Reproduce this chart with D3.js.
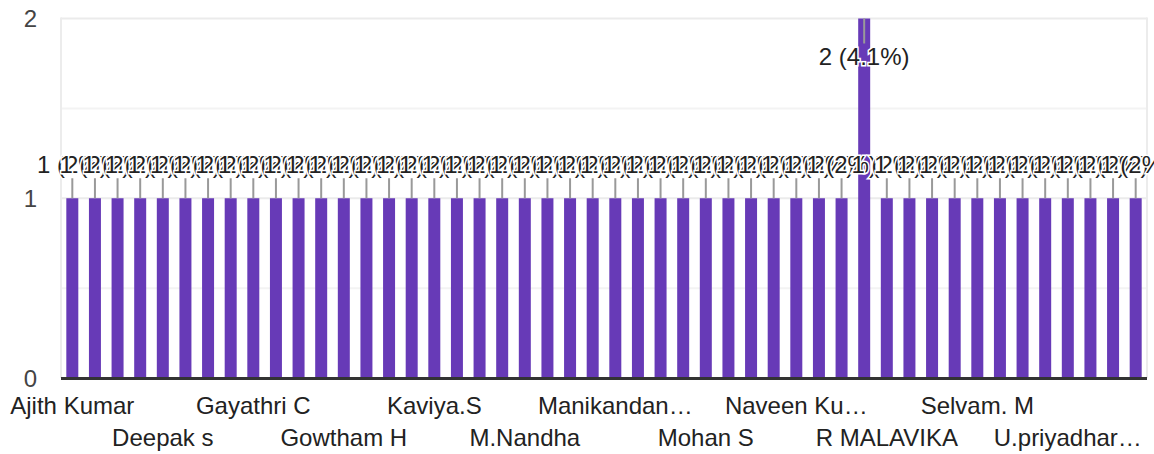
<!DOCTYPE html>
<html>
<head>
<meta charset="utf-8">
<script src="https://cdn.jsdelivr.net/npm/d3@7"></script>
<style>
  html, body { margin: 0; padding: 0; background: #fff; }
  svg { display: block; font-family: "Liberation Sans", Arial, sans-serif; }
</style>
</head>
<body>
<svg id="chart" width="1154" height="454"></svg>
<script>
// Responses per name (one bar per respondent name)
const values = [
  1, 1, 1, 1, 1, 1, 1, 1, 1, 1, 1, 1, 1, 1, 1, 1,
  1, 1, 1, 1, 1, 1, 1, 1, 1, 1, 1, 1, 1, 1, 1, 1,
  1, 1, 1, 2, 1, 1, 1, 1, 1, 1, 1, 1, 1, 1, 1, 1
];

// Category names shown on the axis (blank = not labelled)
const categories = [
  "Ajith Kumar", "", "", "", "Deepak s", "", "", "",
  "Gayathri C", "", "", "", "Gowtham H", "", "", "",
  "Kaviya.S", "", "", "", "M.Nandha", "", "", "",
  "Manikandan…", "", "", "", "Mohan S", "", "", "",
  "Naveen Ku…", "", "", "", "R MALAVIKA", "", "", "",
  "Selvam. M", "", "", "", "U.priyadhar…", "", "", ""
];

const yTicks = [0, 1, 2];
const yGrid = [0.5, 1, 1.5, 2];

const svg = d3.select("#chart");
const plotLeft = 61, plotRight = 1147, plotTop = 18.5, plotBottom = 378;

const x = d3.scaleBand()
  .domain(d3.range(values.length))
  .range([plotLeft, plotRight])
  .paddingInner(0.47)
  .paddingOuter(0.235);

const y = d3.scaleLinear().domain([0, 2]).range([plotBottom, plotTop]);

const total = d3.sum(values);
const pct = v => {
  const p = Math.round(v / total * 1000) / 10;
  return (p % 1 === 0 ? p.toFixed(0) : p.toFixed(1)) + "%";
};

// gridlines
svg.append("g")
  .selectAll("line")
  .data(yGrid)
  .join("line")
  .attr("x1", plotLeft).attr("x2", plotRight)
  .attr("y1", d => y(d)).attr("y2", d => y(d))
  .attr("stroke", d => d % 1 === 0 ? "#ebebeb" : "#f3f3f3")
  .attr("stroke-width", 2);

// side borders of the plot area
svg.append("g")
  .selectAll("line")
  .data([plotLeft, plotRight])
  .join("line")
  .attr("x1", d => d).attr("x2", d => d)
  .attr("y1", plotTop - 1).attr("y2", plotBottom)
  .attr("stroke", "#ececec")
  .attr("stroke-width", 2);

// y tick labels
svg.append("g")
  .selectAll("text")
  .data(yTicks)
  .join("text")
  .attr("x", 37)
  .attr("y", d => y(d) + 8.5)
  .attr("text-anchor", "end")
  .attr("font-size", 24)
  .attr("fill", "#444")
  .text(d => d);

// bars
svg.append("g")
  .selectAll("rect")
  .data(values)
  .join("rect")
  .attr("x", (d, i) => x(i))
  .attr("width", x.bandwidth())
  .attr("y", d => y(d))
  .attr("height", d => y(0) - y(d))
  .attr("fill", "#673ab7");

// baseline
svg.append("line")
  .attr("x1", plotLeft).attr("x2", plotRight)
  .attr("y1", plotBottom + 0.5).attr("y2", plotBottom + 0.5)
  .attr("stroke", "#333")
  .attr("stroke-width", 3);

// category labels, alternating between two rows
const labelled = categories
  .map((name, i) => ({ name, i }))
  .filter(d => d.name !== "");

svg.append("g")
  .selectAll("text")
  .data(labelled)
  .join("text")
  .attr("x", d => x(d.i) + x.bandwidth() / 2)
  .attr("y", (d, k) => k % 2 === 0 ? 414 : 446)
  .attr("text-anchor", "middle")
  .attr("font-size", 24)
  .attr("fill", "#222")
  .text(d => d.name);

// value annotations with stems
const ann = svg.append("g");
values.forEach((v, i) => {
  const cx = x(i) + x.bandwidth() / 2;
  const yt = y(v);
  const inside = yt - 45 < 0;
  const stemEnd = inside ? yt + 25 : yt - 20;
  ann.append("line")
    .attr("x1", cx).attr("x2", cx)
    .attr("y1", yt).attr("y2", stemEnd)
    .attr("stroke", "#999")
    .attr("stroke-width", 2);
  ann.append("text")
    .attr("x", cx)
    .attr("y", inside ? yt + 46.5 : yt - 25)
    .attr("text-anchor", "middle")
    .attr("font-size", 24)
    .attr("fill", "#222")
    .attr("stroke", "#fff")
    .attr("stroke-width", 3)
    .attr("paint-order", "stroke")
    .text(`${v} (${pct(v)})`);
});
</script>
</body>
</html>
